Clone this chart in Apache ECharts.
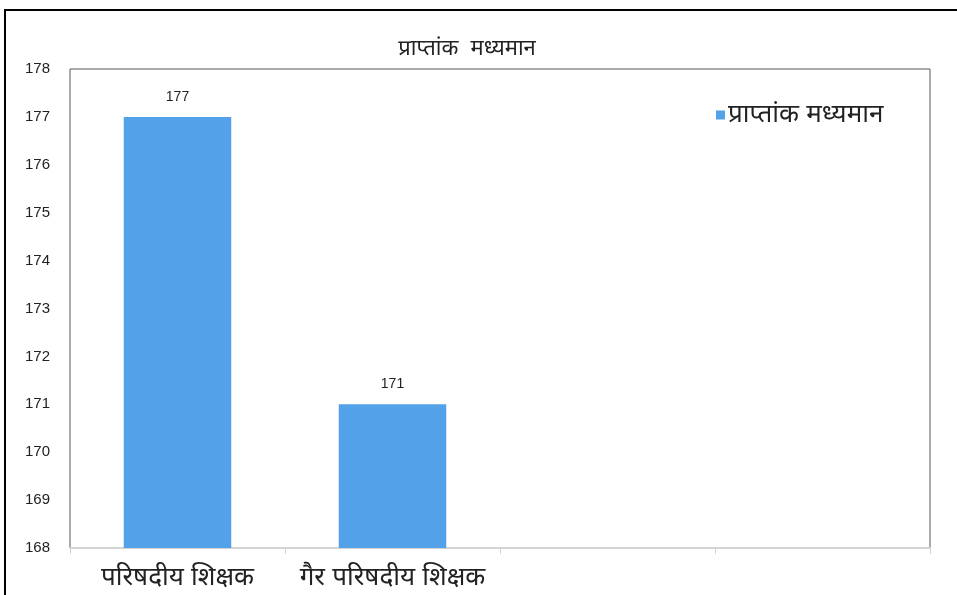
<!DOCTYPE html>
<html>
<head>
<meta charset="utf-8">
<script src="https://cdn.jsdelivr.net/npm/echarts@6/dist/echarts.min.js"></script>
<style>
  html, body { margin: 0; padding: 0; background: #fff; }
  #chart { width: 957px; height: 595px; }
</style>
</head>
<body>
<div id="chart"></div>
<script>
const chartTitle = 'प्राप्तांक  मध्यमान'
const seriesName = 'प्राप्तांक मध्यमान'
const categories = ['परिषदीय शिक्षक', 'गैर परिषदीय शिक्षक', '', '']
const values = [177, 171, '-', '-']
const yMin = 168
const yMax = 178

const chart = echarts.init(document.getElementById('chart'))

const option = {
  animation: false,
  backgroundColor: '#fff',
  textStyle: { fontFamily: 'Arial, "Liberation Sans", "Noto Sans", sans-serif' },
  title: {
    text: chartTitle,
    left: 462,
    textAlign: 'center',
    top: 33,
    textStyle: { fontSize: 22, fontWeight: 'normal', color: '#222' }
  },
  legend: {
    data: [seriesName],
    left: 711,
    top: 97,
    icon: 'rect',
    itemWidth: 9,
    itemHeight: 9,
    itemGap: 4,
    textStyle: { fontSize: 26, color: '#222', padding: [0, 0, 0, -2] }
  },
  graphic: [
    {
      type: 'rect',
      shape: { x: 5, y: 10, width: 970, height: 600 },
      style: { fill: 'none', stroke: '#000', lineWidth: 2 },
      silent: true,
      z: 100
    }
  ],
  grid: {
    left: 70,
    top: 69,
    right: 27,
    bottom: 47,
    show: true,
    borderColor: '#555',
    borderWidth: 1
  },
  xAxis: {
    type: 'category',
    data: categories,
    axisLine: { lineStyle: { color: '#d4d4d4', width: 2 } },
    axisTick: { show: true, interval: 0, length: 6, lineStyle: { color: '#d4d4d4' } },
    axisLabel: { interval: 0, hideOverlap: false, fontSize: 26, color: '#222', margin: 17 },
    splitLine: { show: false }
  },
  yAxis: {
    type: 'value',
    min: yMin,
    max: yMax,
    interval: 1,
    axisLine: { show: false },
    axisTick: { show: false },
    splitLine: { show: false },
    axisLabel: { fontSize: 15, color: '#222', margin: 20 }
  },
  series: [
    {
      name: seriesName,
      type: 'bar',
      data: values,
      barWidth: '50%',
      itemStyle: { color: '#52A1E9' },
      label: {
        show: true,
        position: 'top',
        distance: 13,
        fontSize: 14,
        color: '#222'
      }
    }
  ]
}

chart.setOption(option)
</script>
</body>
</html>
